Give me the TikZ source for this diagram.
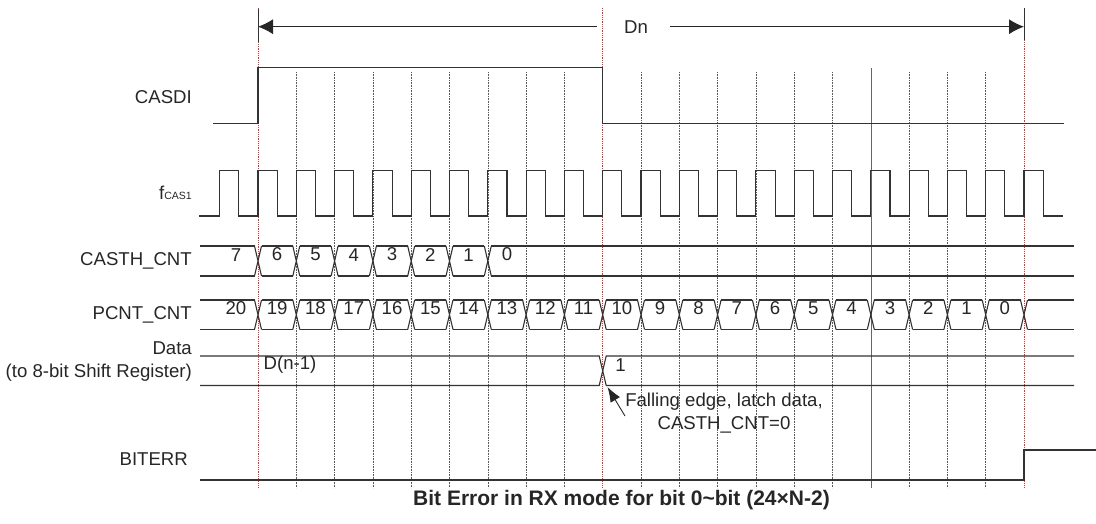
\documentclass[tikz,border=0pt]{standalone}
\usepackage{fontspec}
\setmainfont{Liberation Sans}
\usetikzlibrary{arrows.meta}
\begin{document}
\begin{tikzpicture}[x=1pt,y=-1pt,
  sig/.style={line width=1.1pt, draw=black!80, line join=miter},
  gridline/.style={densely dotted, line width=0.6pt, draw=black!65},
  redline/.style={densely dotted, line width=0.8pt, draw=red!85},
  lbl/.style={font=\fontsize{18.6}{23}\selectfont, text=black!85, inner sep=0pt},
  ptr/.style={line width=0.9pt, draw=black!85, -{Latex[length=15pt,width=11pt]}},
  dimarrow/.style={line width=1pt, draw=black!85, -{Latex[length=15pt,width=15pt]}}]
\useasboundingbox (0,0) rectangle (1096,523);
\def\per{38.3}
% grid lines at clock rising edges
\foreach \k in {1,...,8,10,11,...,15,17,18,19} {
  \draw[gridline] ({258+\k*\per},72) -- ({258+\k*\per},488);
}
\draw[line width=0.6pt, draw=black!60] ({258+16*\per},68) -- ({258+16*\per},488);
% red reference lines
\foreach \k/\n in {0/rA,9/rB,20/rC} {
  \coordinate (\n) at ({258+\k*\per},8);
  \draw[redline] (\n) -- ++(0,480);
}
\draw[line width=0.9pt, black!80] (258,9) -- (258,42);
\draw[line width=0.9pt, black!80] (1024,8) -- (1024,40);
% Dn dimension
\node[lbl] (dn) at (636,26.7) {Dn};
\coordinate (dnL) at (258,26.7);
\coordinate (dnR) at (1024,26.7);
\draw[dimarrow] ([xshift=-27pt]dn.west) -- (dnL);
\draw[dimarrow] ([xshift=22pt]dn.east) -- (dnR);
% signal names
\node[lbl, anchor=east] (casdi) at (192,97) {CASDI};
\node[lbl, anchor=base east] (fcas) at (192,199) {f{\fontsize{10.5}{12}\selectfont CAS1}};
\node[lbl, anchor=east] (casth) at (192,261) {CASTH\_CNT};
\node[lbl, anchor=east] (pcnt) at (192,314.5) {PCNT\_CNT};
\node[lbl, anchor=east, align=right] (data) at (192,361.5) {Data\\(to 8-bit Shift Register)};
\node[lbl, anchor=east] (biterr) at (188,459) {BITERR};
% CASDI
\draw[sig] (213,123.5) -- (258,123.5) -- (258,67.5) -- ({258+9*\per},67.5) -- ({258+9*\per},123.5) -- (1064,123.5);
% clock
\draw[sig] (199,216) \foreach \k in {-1,...,19} {
  -- ({258+\k*\per},216) -- ({258+\k*\per},170.7) -- ({258+\k*\per+19.15},170.7) -- ({258+\k*\per+19.15},216) }
  -- (1024,216) -- (1024,170.7) -- (1043.2,170.7) -- (1043.2,216) -- (1063,216);
% CASTH_CNT bus
\def\ht{246}\def\hb{276}
\draw[sig] (200,\ht) -- (254.5,\ht) (200,\hb) -- (254.5,\hb);
\foreach \k in {0,...,6} {
  \pgfmathsetmacro{\e}{258+\k*\per}
  \draw[sig] ({\e-3.5},\ht) -- ({\e+3.5},\hb) ({\e-3.5},\hb) -- ({\e+3.5},\ht);
}
\foreach \k in {0,...,5} {
  \pgfmathsetmacro{\a}{258+\k*\per+3.5}\pgfmathsetmacro{\b}{258+(\k+1)*\per-3.5}
  \draw[sig] (\a,\ht) -- (\b,\ht) (\a,\hb) -- (\b,\hb);
}
\draw[sig] ({258+6*\per+3.5},\ht) -- (1074,\ht) ({258+6*\per+3.5},\hb) -- (1074,\hb);
\node[lbl] (c7) at (236,261) {7};
\foreach \k in {0,...,6} {
  \pgfmathtruncatemacro{\v}{6-\k}
  \node[lbl] (c\v) at ({258+(\k+0.5)*\per},261) {\v};
}
% PCNT_CNT bus
\def\pt{300}\def\pb{329.5}
\draw[sig] (200,\pt) -- (254.5,\pt) (200,\pb) -- (254.5,\pb);
\foreach \k in {0,...,20} {
  \pgfmathsetmacro{\e}{258+\k*\per}
  \draw[sig] ({\e-3.5},\pt) -- ({\e+3.5},\pb) ({\e-3.5},\pb) -- ({\e+3.5},\pt);
}
\foreach \k in {0,...,19} {
  \pgfmathsetmacro{\a}{258+\k*\per+3.5}\pgfmathsetmacro{\b}{258+(\k+1)*\per-3.5}
  \draw[sig] (\a,\pt) -- (\b,\pt) (\a,\pb) -- (\b,\pb);
  \pgfmathtruncatemacro{\v}{19-\k}
  \node[lbl] (p\v) at ({258+(\k+0.5)*\per},314.5) {\v};
}
\draw[sig] ({258+20*\per+3.5},\pt) -- (1074,\pt) ({258+20*\per+3.5},\pb) -- (1074,\pb);
\node[lbl] (p20) at (236,314.5) {20};
% Data bus
\def\dt{356}\def\db{385.5}
\pgfmathsetmacro{\e}{258+9*\per}
\draw[sig] (200,\dt) -- ({\e-3.5},\dt) -- ({\e+3.5},\db) -- (1074,\db);
\draw[sig] (200,\db) -- ({\e-3.5},\db) -- ({\e+3.5},\dt) -- (1074,\dt);
\node[lbl] (dprev) at (290,371) {D(n-1)};
\node[lbl] (d1) at (620.5,371) {1};
% BITERR
\draw[sig] (200,480) -- (1024,480) -- (1024,450) -- (1096,450);
% annotation
\node[lbl, align=center] (ann) at (724,431) {Falling edge, latch data,\\CASTH\_CNT=0};
\coordinate (tip) at (607.5,387);
\coordinate (tail) at (625,416);
\draw[ptr] (tail) -- (tip);
% caption
\node[font=\bfseries\fontsize{21}{25}\selectfont, text=black!85, inner sep=0pt] (cap) at (621.5,508) {Bit Error in RX mode for bit 0\textasciitilde bit (24×N-2)};
\end{tikzpicture}
\end{document}
